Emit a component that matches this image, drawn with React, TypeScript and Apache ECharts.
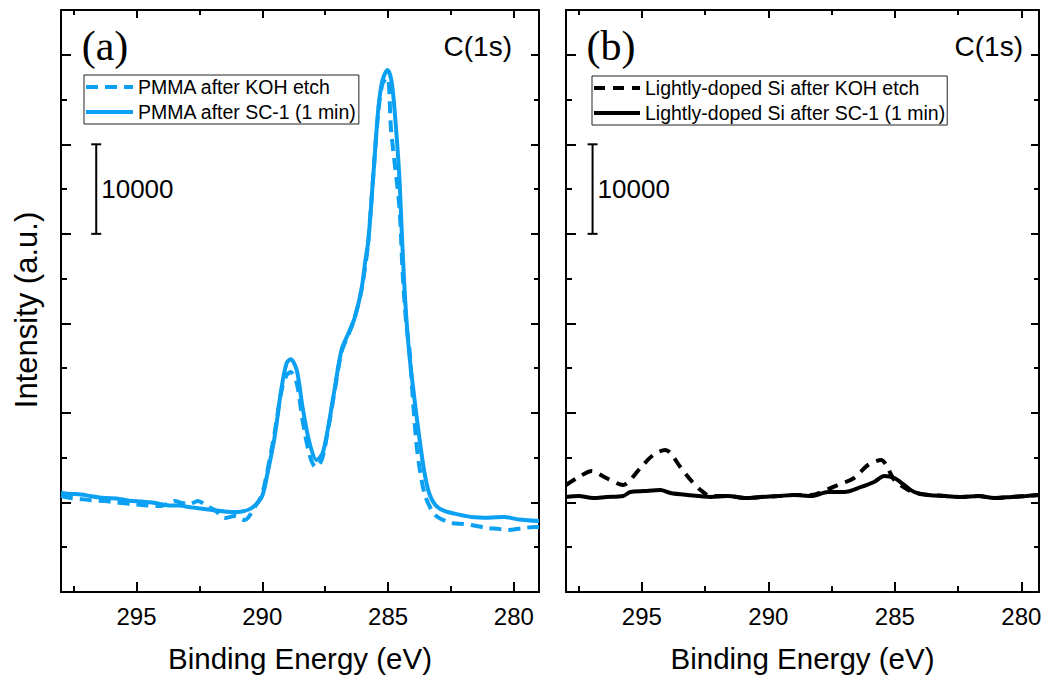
import React, { useEffect, useRef } from "react";
import * as echarts from "echarts";

// C(1s) XPS spectra, binding energy (eV) vs. counts
const PMMA_KOH: [number, number][] = [
  [298.0, 10720], [297.6, 10500], [297.25, 10390], [296.8, 10250], [296.25, 10160],
  [295.8, 10000], [295.26, 9830], [294.7, 9700], [294.07, 9600], [293.7, 9900],
  [293.48, 10160], [293.2, 9950], [292.88, 9830], [292.56, 10160], [292.2, 9600],
  [291.89, 9160], [291.49, 8260], [291.1, 8490], [290.7, 8040], [290.3, 9490],
  [290.02, 10830], [289.79, 13620], [289.51, 17760], [289.23, 22560], [289.03, 24230],
  [288.87, 24570], [288.63, 23340], [288.4, 19210], [288.12, 15300], [287.88, 13960],
  [287.64, 14740], [287.4, 17870], [287.13, 22340], [286.85, 26800], [286.6, 28590],
  [286.36, 30300], [286.08, 33390], [285.9, 36500], [285.8, 38750], [285.6, 46010],
  [285.4, 53270], [285.22, 56800], [285.02, 57400], [284.88, 51600], [284.55, 43000],
  [284.42, 35630], [284.28, 30040], [284.15, 27030], [284.0, 21000], [283.83, 15520],
  [283.56, 11060], [283.3, 9300], [283.04, 8380], [282.48, 7710], [282.0, 7600],
  [281.69, 7480], [281.06, 7150], [280.6, 7050], [280.26, 6920], [279.7, 7100],
  [279.19, 7260], [279.0, 7260],
];

const PMMA_SC1: [number, number][] = [
  [298.0, 11060], [297.6, 10950], [297.2, 10900], [296.8, 10700], [296.25, 10500],
  [295.8, 10450], [295.3, 10200], [294.8, 10100], [294.27, 9940], [293.8, 9700],
  [293.3, 9650], [292.8, 9450], [292.29, 9270], [291.8, 9100], [291.21, 8930],
  [290.8, 9000], [290.42, 9380], [290.02, 10610], [289.79, 13290], [289.51, 17310],
  [289.23, 22890], [289.03, 25570], [288.87, 26000], [288.63, 24790], [288.4, 20660],
  [288.12, 16640], [287.84, 14740], [287.6, 15520], [287.4, 18090], [287.13, 22560],
  [286.85, 27030], [286.57, 28930], [286.33, 30600], [286.06, 33730], [285.9, 37080],
  [285.78, 39310], [285.58, 46790], [285.38, 54160], [285.22, 57180], [285.02, 58300],
  [284.87, 57180], [284.75, 54160], [284.56, 46790], [284.44, 39310], [284.32, 32610],
  [284.17, 27030], [283.97, 22000], [283.77, 17530], [283.57, 13620], [283.37, 11060],
  [283.12, 9720], [282.76, 9050], [282.2, 8650], [281.69, 8380], [281.0, 8300],
  [280.38, 8380], [279.8, 8100], [279.0, 7930],
];

const SI_KOH: [number, number][] = [
  [298.0, 11950], [297.56, 12730], [296.97, 13510], [296.77, 13290], [296.25, 12510],
  [295.74, 11950], [295.46, 12510], [295.06, 13850], [294.55, 15300], [294.07, 15860],
  [293.87, 15520], [293.48, 13960], [293.0, 12280], [292.68, 11390], [292.29, 10720],
  [291.6, 10720], [290.9, 10500], [290.3, 10610], [289.6, 10720], [289.0, 10830],
  [288.3, 10830], [287.64, 11500], [287.25, 11950], [286.61, 12730], [286.06, 14180],
  [285.54, 14740], [285.34, 14180], [285.02, 12510], [284.47, 11390], [284.0, 10950],
  [283.0, 10720], [282.37, 10610], [281.7, 10720], [281.06, 10500], [280.4, 10610],
  [279.8, 10720], [279.3, 10830],
];

const SI_SC1: [number, number][] = [
  [298.0, 10610], [297.5, 10720], [296.93, 10500], [296.4, 10610], [295.74, 10720],
  [295.46, 11170], [294.9, 11280], [294.27, 11390], [293.87, 11060], [293.2, 10830],
  [292.29, 10610], [291.6, 10720], [290.9, 10500], [290.3, 10610], [289.6, 10720],
  [289.0, 10830], [288.3, 10720], [287.64, 11170], [287.0, 11170], [286.33, 11730],
  [285.82, 12280], [285.42, 12950], [285.02, 12730], [284.63, 11950], [284.23, 11170],
  [283.67, 10830], [283.0, 10720], [282.37, 10610], [281.7, 10720], [281.06, 10500],
  [280.4, 10610], [279.8, 10720], [279.3, 10830],
];

// 10000-count scale bars: [energy, lower count, upper count]
const SCALE_BAR_A: [number, number, number][] = [[296.6, 40000, 50000]];
const SCALE_BAR_B: [number, number, number][] = [[296.95, 40000, 50000]];

const X_MAJOR = [280, 285, 290, 295];
const X_MINOR = [282.5, 287.5, 292.5, 297.5];
const Y_MAJOR = [0, 10000, 20000, 30000, 40000, 50000, 60000];
const Y_MINOR = [5000, 15000, 25000, 35000, 45000, 55000];
const X_RANGE_A: [number, number] = [279, 298];
const X_RANGE_B: [number, number] = [279.3, 298];
const Y_RANGE: [number, number] = [0, 65000];

const NAMES_A = ["PMMA after KOH etch", "PMMA after SC-1 (1 min)"];
const NAMES_B = ["Lightly-doped Si after KOH etch", "Lightly-doped Si after SC-1 (1 min)"];
const X_TITLE = "Binding Energy (eV)";
const Y_TITLE = "Intensity (a.u.)";

const SANS = "'Liberation Sans', Arial, Helvetica, sans-serif";
const SERIF = "'Liberation Serif', 'Times New Roman', serif";
const BLUE = "#0ba0f2";
const BLACK = "#000";

const tickLine = { color: BLACK, width: 2 };

function xAxes(grid: number, range: [number, number]) {
  const base = {
    gridIndex: grid,
    type: "value",
    min: range[0],
    max: range[1],
    inverse: true,
    splitLine: { show: false },
  };
  return [
    {
      ...base,
      position: "bottom",
      axisLine: { show: true, onZero: false, lineStyle: tickLine },
      axisTick: { show: true, inside: true, length: 10, lineStyle: tickLine, customValues: X_MAJOR },
      axisLabel: { show: true, customValues: X_MAJOR, margin: 12, fontSize: 24, color: BLACK, fontFamily: SANS },
      name: X_TITLE,
      nameLocation: "middle",
      nameGap: 51,
      nameTextStyle: { fontSize: 29.5, color: BLACK, fontFamily: SANS },
    },
    {
      ...base,
      position: "bottom",
      axisLine: { show: false, onZero: false },
      axisTick: { show: true, inside: true, length: 6, lineStyle: tickLine, customValues: X_MINOR },
      axisLabel: { show: false },
    },
    {
      ...base,
      position: "top",
      axisLine: { show: true, onZero: false, lineStyle: tickLine },
      axisTick: { show: true, inside: true, length: 8, lineStyle: tickLine, customValues: X_MAJOR },
      axisLabel: { show: false },
    },
    {
      ...base,
      position: "top",
      axisLine: { show: false, onZero: false },
      axisTick: { show: true, inside: true, length: 5, lineStyle: tickLine, customValues: X_MINOR },
      axisLabel: { show: false },
    },
  ];
}

function yAxes(grid: number) {
  const base = {
    gridIndex: grid,
    type: "value",
    min: Y_RANGE[0],
    max: Y_RANGE[1],
    splitLine: { show: false },
    axisLabel: { show: false },
  };
  return [
    {
      ...base,
      position: "left",
      axisLine: { show: true, onZero: false, lineStyle: tickLine },
      axisTick: { show: true, inside: true, length: 10, lineStyle: tickLine, customValues: Y_MAJOR },
    },
    {
      ...base,
      position: "left",
      axisLine: { show: false, onZero: false },
      axisTick: { show: true, inside: true, length: 6, lineStyle: tickLine, customValues: Y_MINOR },
    },
    {
      ...base,
      position: "right",
      axisLine: { show: true, onZero: false, lineStyle: tickLine },
      axisTick: { show: true, inside: true, length: 8, lineStyle: tickLine, customValues: Y_MAJOR },
    },
    {
      ...base,
      position: "right",
      axisLine: { show: false, onZero: false },
      axisTick: { show: true, inside: true, length: 5, lineStyle: tickLine, customValues: Y_MINOR },
    },
  ];
}

function scaleBar(axisIndex: number, data: [number, number, number][]) {
  return {
    type: "custom",
    xAxisIndex: axisIndex,
    yAxisIndex: axisIndex,
    silent: true,
    z: 5,
    data,
    renderItem: (_params: any, api: any) => {
      const hi = api.coord([api.value(0), api.value(2)]);
      const lo = api.coord([api.value(0), api.value(1)]);
      const st = { stroke: BLACK, lineWidth: 2 };
      return {
        type: "group",
        children: [
          { type: "line", shape: { x1: hi[0], y1: hi[1], x2: lo[0], y2: lo[1] }, style: st },
          { type: "line", shape: { x1: hi[0] - 5, y1: hi[1], x2: hi[0] + 5, y2: hi[1] }, style: st },
          { type: "line", shape: { x1: lo[0] - 5, y1: lo[1], x2: lo[0] + 5, y2: lo[1] }, style: st },
          {
            type: "text",
            style: {
              text: String(api.value(2) - api.value(1)),
              x: hi[0] + 5,
              y: (hi[1] + lo[1]) / 2,
              align: "left",
              verticalAlign: "middle",
              fontSize: 26,
              fontFamily: SANS,
              fill: BLACK,
            },
          },
        ],
      };
    },
  };
}

function legendAt(left: number, top: number, names: string[], itemWidth: number) {
  return {
    data: names,
    orient: "vertical",
    left,
    top,
    padding: [1, 2, 1, 0],
    itemGap: 3,
    itemWidth,
    itemHeight: 22,
    borderColor: "#222",
    borderWidth: 1,
    backgroundColor: "#fff",
    selectedMode: false,
    itemStyle: { opacity: 0 },
    lineStyle: { width: 4 },
    textStyle: { fontSize: 19.5, color: BLACK, fontFamily: SANS, lineHeight: 22 },
  };
}

export default function App() {
  const ref = useRef<HTMLDivElement>(null);

  useEffect(() => {
    if (!ref.current) return;
    const chart = echarts.init(ref.current, null, { renderer: "svg" });

    const option = {
      animation: false,
      backgroundColor: "#fff",
      grid: [
        { left: 61, top: 10, width: 478, height: 582, outerBoundsMode: "none", containLabel: false },
        { left: 566, top: 10, width: 473, height: 582, outerBoundsMode: "none", containLabel: false },
      ],
      xAxis: [...xAxes(0, X_RANGE_A), ...xAxes(1, X_RANGE_B)],
      yAxis: [...yAxes(0), ...yAxes(1)],
      legend: [legendAt(84, 75, NAMES_A, 47), legendAt(592, 76, NAMES_B, 46)],
      series: [
        {
          name: NAMES_A[0],
          type: "line",
          xAxisIndex: 0,
          yAxisIndex: 0,
          data: PMMA_KOH,
          symbol: "none",
          smooth: 0.3,
          lineStyle: { color: BLUE, width: 4, type: [12, 7] },
          itemStyle: { color: BLUE },
        },
        {
          name: NAMES_A[1],
          type: "line",
          xAxisIndex: 0,
          yAxisIndex: 0,
          data: PMMA_SC1,
          symbol: "none",
          smooth: 0.3,
          lineStyle: { color: BLUE, width: 4, type: "solid" },
          itemStyle: { color: BLUE },
        },
        {
          name: NAMES_B[0],
          type: "line",
          xAxisIndex: 4,
          yAxisIndex: 4,
          data: SI_KOH,
          symbol: "none",
          smooth: 0.3,
          lineStyle: { color: BLACK, width: 4, type: [11, 8] },
          itemStyle: { color: BLACK },
        },
        {
          name: NAMES_B[1],
          type: "line",
          xAxisIndex: 4,
          yAxisIndex: 4,
          data: SI_SC1,
          symbol: "none",
          smooth: 0.3,
          lineStyle: { color: BLACK, width: 4, type: "solid" },
          itemStyle: { color: BLACK },
        },
        scaleBar(0, SCALE_BAR_A),
        scaleBar(4, SCALE_BAR_B),
      ],
      graphic: [
        {
          type: "text",
          x: 26,
          y: 310,
          rotation: Math.PI / 2,
          style: { text: Y_TITLE, fontSize: 31, fontFamily: SANS, fill: BLACK, align: "center", verticalAlign: "middle" },
        },
        {
          type: "text",
          x: 105,
          y: 46,
          style: { text: "(a)", fontSize: 42, fontFamily: SERIF, fill: BLACK, align: "center", verticalAlign: "middle" },
        },
        {
          type: "text",
          x: 611,
          y: 46,
          style: { text: "(b)", fontSize: 42, fontFamily: SERIF, fill: BLACK, align: "center", verticalAlign: "middle" },
        },
        {
          type: "text",
          x: 512,
          y: 46,
          style: { text: "C(1s)", fontSize: 28, fontFamily: SANS, fill: BLACK, align: "right", verticalAlign: "middle" },
        },
        {
          type: "text",
          x: 1023,
          y: 46,
          style: { text: "C(1s)", fontSize: 28, fontFamily: SANS, fill: BLACK, align: "right", verticalAlign: "middle" },
        },
      ],
    };

    chart.setOption(option as any);
    return () => chart.dispose();
  }, []);

  return (
    <div
      ref={ref}
      style={{ position: "absolute", left: 0, top: 0, width: 1041, height: 677, background: "#fff" }}
    />
  );
}
